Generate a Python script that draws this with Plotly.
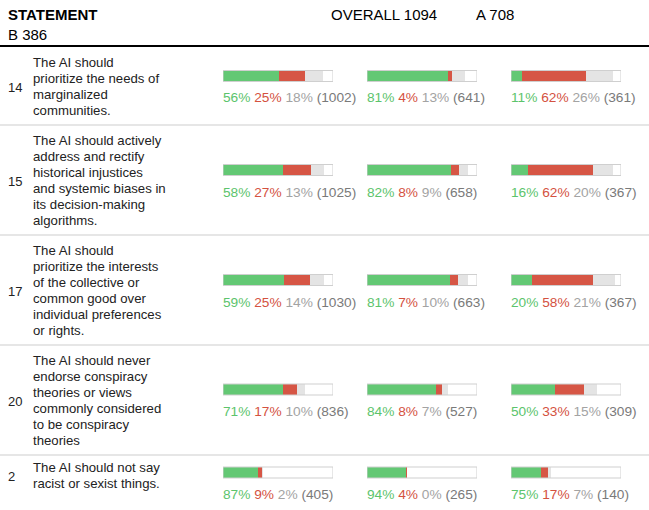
import plotly.graph_objects as go

# ---------------- data ----------------
ids = ["14", "15", "17", "20", "2"]
statements = [
    ["The AI should", "prioritize the needs of", "marginalized", "communities."],
    ["The AI should actively", "address and rectify", "historical injustices",
     "and systemic biases in", "its decision-making", "algorithms."],
    ["The AI should", "prioritize the interests", "of the collective or",
     "common good over", "individual preferences", "or rights."],
    ["The AI should never", "endorse conspiracy", "theories or views",
     "commonly considered", "to be conspiracy", "theories"],
    ["The AI should not say", "racist or sexist things."],
]
groups = ["OVERALL", "A", "B"]
group_totals = [1094, 708, 386]

# per group: agree %, disagree %, neutral %, count
agree = [
    [56, 58, 59, 71, 87],
    [81, 82, 81, 84, 94],
    [11, 16, 20, 50, 75],
]
disagree = [
    [25, 27, 25, 17, 9],
    [4, 8, 7, 8, 4],
    [62, 62, 58, 33, 17],
]
neutral = [
    [18, 13, 14, 10, 2],
    [13, 9, 10, 7, 0],
    [26, 20, 21, 15, 7],
]
counts = [
    [1002, 1025, 1030, 836, 405],
    [641, 658, 663, 527, 265],
    [361, 367, 367, 309, 140],
]

# ---------------- layout / style ----------------
W, H = 649, 510
ROW_TOP = [47, 125, 235, 345, 455]
ROW_MID = [86, 180, 290, 400, 475]
BAR_Y = [76, 170, 280, 389.5, 472.5]
COL_X = [223, 367, 511]
BAR_W = 110
BAR_H = 11
PAD = 2  # annotation inner padding compensation
FONT = "Liberation Sans, Arial, Helvetica, sans-serif"

C_GREEN = "#63c874"
C_RED = "#d65645"
C_GRAY = "#e4e4e4"
T_GREEN = "#5cc46c"
T_RED = "#d4523f"
T_GRAY = "#a3a3a3"
T_COUNT = "#7a7a7a"


def px(x):
    return x / W


def py(y):
    return 1 - y / H


fig = go.Figure()

layout_axes = {}
for c in range(3):
    ax = "xaxis" if c == 0 else f"xaxis{c + 1}"
    layout_axes[ax] = dict(
        domain=[COL_X[c] / W, (COL_X[c] + BAR_W) / W],
        range=[0, group_totals[c]], visible=False, fixedrange=True,
        anchor="y",
    )
    xref = "x" if c == 0 else f"x{c + 1}"
    g = [counts[c][i] * agree[c][i] / 100 for i in range(5)]
    r = [counts[c][i] * disagree[c][i] / 100 for i in range(5)]
    n = [counts[c][i] * neutral[c][i] / 100 for i in range(5)]
    # white background box
    fig.add_trace(go.Bar(
        orientation="h", y=BAR_Y, x=[group_totals[c]] * 5, base=[0] * 5,
        width=BAR_H, marker=dict(color="white", line=dict(width=0)),
        xaxis=xref, yaxis="y", hoverinfo="skip", showlegend=False))
    for vals, bases, col in [
        (g, [0] * 5, C_GREEN),
        (r, g, C_RED),
        (n, [g[i] + r[i] for i in range(5)], C_GRAY),
    ]:
        fig.add_trace(go.Bar(
            orientation="h", y=BAR_Y, x=vals, base=bases, width=BAR_H,
            marker=dict(color=col, line=dict(width=0)),
            xaxis=xref, yaxis="y", showlegend=False))
    # outline
    fig.add_trace(go.Bar(
        orientation="h", y=BAR_Y, x=[group_totals[c]] * 5, base=[0] * 5,
        width=BAR_H,
        marker=dict(color="rgba(0,0,0,0)", line=dict(width=1, color="#cfcfcf")),
        xaxis=xref, yaxis="y", hoverinfo="skip", showlegend=False))

annotations = []
shapes = []

# header
annotations += [
    dict(x=8, y=14, text="<b>STATEMENT</b>", font=dict(size=15, color="black")),
    dict(x=331, y=14, text=f"{groups[0]} {group_totals[0]}", font=dict(size=15, color="black")),
    dict(x=476, y=14, text=f"{groups[1]} {group_totals[1]}", font=dict(size=15, color="black")),
    dict(x=8, y=35, text=f"{groups[2]} {group_totals[2]}", font=dict(size=15, color="black")),
]
shapes.append(dict(type="line", xref="paper", yref="paper", x0=0, x1=1,
                   y0=py(46), y1=py(46), line=dict(color="black", width=2)))

for i in range(5):
    if i > 0:
        shapes.append(dict(type="line", xref="paper", yref="paper", x0=0, x1=1,
                           y0=py(ROW_TOP[i]), y1=py(ROW_TOP[i]),
                           line=dict(color="#e6e6e6", width=2)))
    annotations.append(dict(x=8, y=ROW_MID[i] + 1, text=ids[i],
                            font=dict(size=13, color="#222")))
    lines = statements[i]
    nL = len(lines)
    for k, ln in enumerate(lines):
        annotations.append(dict(x=33, y=ROW_MID[i] + (k - (nL - 1) / 2) * 16,
                                text=ln, font=dict(size=13.2, color="#222")))
    for c in range(3):
        txt = (f'<span style="color:{T_GREEN}">{agree[c][i]}%</span> '
               f'<span style="color:{T_RED}">{disagree[c][i]}%</span> '
               f'<span style="color:{T_GRAY}">{neutral[c][i]}%</span> '
               f'<span style="color:{T_COUNT}">({counts[c][i]})</span>')
        annotations.append(dict(x=COL_X[c], y=BAR_Y[i] + 22, text=txt,
                                font=dict(size=13.7)))

for a in annotations:
    a["x"] = px(a["x"] - PAD)
    a["y"] = py(a["y"])
    a.update(xref="paper", yref="paper", xanchor="left", yanchor="middle",
             showarrow=False)
    a["font"]["family"] = FONT

fig.update_layout(
    width=W, height=H,
    margin=dict(l=0, r=0, t=0, b=0),
    paper_bgcolor="white", plot_bgcolor="white",
    barmode="overlay", bargap=0,
    yaxis=dict(range=[H, 0], visible=False, fixedrange=True, domain=[0, 1]),
    annotations=annotations, shapes=shapes,
    font=dict(family=FONT),
    hovermode=False,
    **layout_axes,
)

fig.write_html("out.html",
               config={"displayModeBar": False, "staticPlot": True},
               post_script="document.body.style.margin='0';"
                           "document.body.style.padding='0';"
                           "document.body.style.overflow='hidden';")
